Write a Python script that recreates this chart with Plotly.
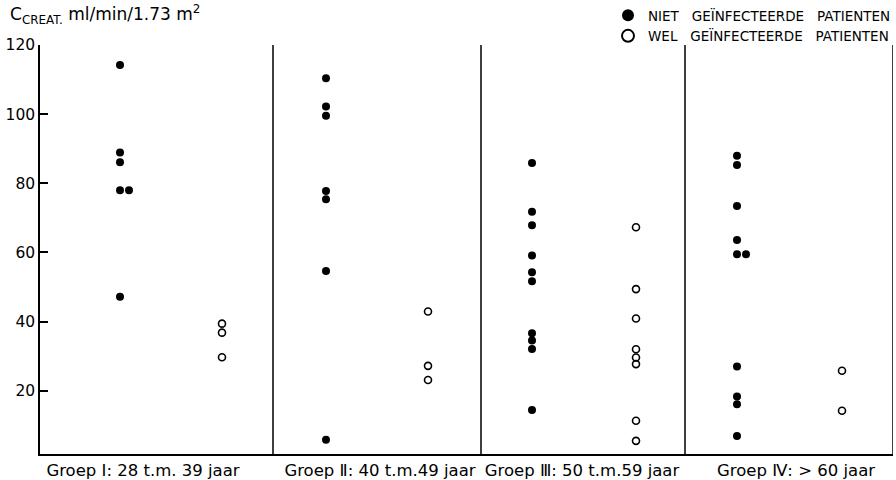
import plotly.graph_objects as go

# ---- data ----
group_labels = ["Groep Ⅰ: 28 t.m. 39 jaar", "Groep Ⅱ: 40 t.m.49 jaar",
                "Groep Ⅲ: 50 t.m.59 jaar", "Groep Ⅳ: > 60 jaar"]
niet_geinfecteerd = [
    [114.2, 88.9, 86.1, 78.0, 78.0, 47.2],
    [110.4, 102.2, 99.5, 77.8, 75.4, 54.6, 5.8],
    [85.9, 71.8, 67.9, 59.1, 54.3, 51.7, 36.6, 34.5, 32.1, 14.4],
    [88.0, 85.3, 73.4, 63.6, 59.5, 59.5, 27.0, 18.3, 16.1, 6.9],
]
wel_geinfecteerd = [
    [39.4, 36.8, 29.7],
    [42.9, 27.2, 23.1],
    [67.3, 49.4, 40.9, 32.0, 29.6, 27.7, 11.3, 5.5],
    [25.8, 14.2],
]
y_ticks = [20, 40, 60, 80, 100, 120]

# ---- layout positions (axis units = px inside plot) ----
group_edges = [0, 233, 441, 645, 853]
filled_offset = [80, 53, 51, 52]
open_offset = [182, 155, 155, 157]
label_pos = [103, 340, 542, 756]
dup_shift = 9

def xs_for(values, base):
    out = []
    for i, v in enumerate(values):
        if i > 0 and v == values[i - 1]:
            out.append(out[-1] + dup_shift)
        else:
            out.append(base)
    return out

fx, fy, ox, oy = [], [], [], []
for g in range(4):
    fx += xs_for(niet_geinfecteerd[g], group_edges[g] + filled_offset[g])
    fy += niet_geinfecteerd[g]
    ox += xs_for(wel_geinfecteerd[g], group_edges[g] + open_offset[g])
    oy += wel_geinfecteerd[g]

FONT = "DejaVu Sans"
fig = go.Figure()
fig.add_trace(go.Scatter(x=fx, y=fy, mode="markers", name="NIET   GEÏNFECTEERDE   PATIENTEN",
                         marker=dict(symbol="circle", size=8, color="black")))
fig.add_trace(go.Scatter(x=ox, y=oy, mode="markers", name="WEL   GEÏNFECTEERDE   PATIENTEN",
                         marker=dict(symbol="circle-open", size=7, color="black",
                                     line=dict(width=1.6, color="black"))))

shapes = []
for e in group_edges[1:]:
    shapes.append(dict(type="line", xref="x", yref="paper", x0=e, x1=e, y0=0, y1=1,
                       line=dict(color="black", width=1.5)))

fig.update_layout(
    width=896, height=480,
    margin=dict(l=40, r=3, t=45, b=26, autoexpand=False),
    paper_bgcolor="white", plot_bgcolor="white",
    font=dict(family=FONT, color="black", size=14),
    showlegend=True,
    legend=dict(xref="container", yref="container", x=1.0, y=1.01,
                xanchor="right", yanchor="top",
                font=dict(size=13.5, family=FONT), bgcolor="rgba(0,0,0,0)",
                itemsizing="constant", tracegroupgap=0, itemwidth=30,
                borderwidth=0),
    shapes=shapes,
    xaxis=dict(range=[0, 853], showgrid=False, zeroline=False, showline=True,
               linecolor="black", linewidth=1.5, tickmode="array", tickvals=label_pos,
               ticktext=group_labels, ticks="", tickfont=dict(size=16.5, family=FONT)),
    yaxis=dict(range=[1.7, 120], showgrid=False, zeroline=False, showline=True,
               linecolor="black", linewidth=1.5, tickmode="array", tickvals=y_ticks,
               ticks="inside", ticklen=8, tickwidth=1.5, tickcolor="black",
               tickfont=dict(size=15.5, family=FONT)),
    annotations=[dict(text="C<sub>CREAT.</sub> ml/min/1.73 m<sup>2</sup>", xref="paper", yref="paper",
                      x=-0.038, y=1.04, xanchor="left", yanchor="bottom", showarrow=False,
                      font=dict(size=17, family=FONT))],
)
fig.write_html("out.html")
